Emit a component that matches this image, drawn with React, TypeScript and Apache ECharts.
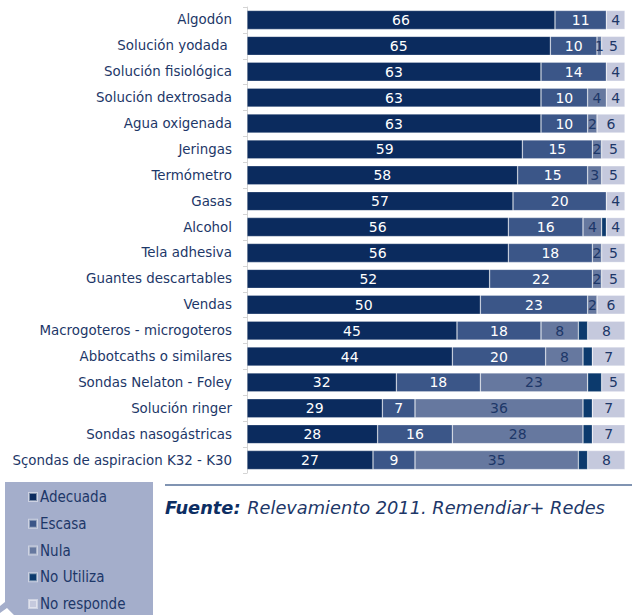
import React, { useEffect, useRef } from "react";
import * as echarts from "echarts";

const categories = [
  "Algodón",
  "Solución yodada ",
  "Solución fisiológica",
  "Solución dextrosada",
  "Agua oxigenada",
  "Jeringas",
  "Termómetro",
  "Gasas",
  "Alcohol",
  "Tela adhesiva",
  "Guantes descartables",
  "Vendas",
  "Macrogoteros - microgoteros",
  "Abbotcaths o similares",
  "Sondas Nelaton - Foley",
  "Solución ringer",
  "Sondas nasogástricas",
  "Sçondas de aspiracion K32 - K30",
];

const adecuada = [66, 65, 63, 63, 63, 59, 58, 57, 56, 56, 52, 50, 45, 44, 32, 29, 28, 27];
const escasa = [11, 10, 14, 10, 10, 15, 15, 20, 16, 18, 22, 23, 18, 20, 18, 7, 16, 9];
const nula = [0, 1, 0, 4, 2, 2, 3, 0, 4, 2, 2, 2, 8, 8, 23, 36, 28, 35];
const noUtiliza = [0, 0, 0, 0, 0, 0, 0, 0, 1, 0, 0, 0, 2, 2, 3, 2, 2, 2];
const noResponde = [4, 5, 4, 4, 6, 5, 5, 4, 4, 5, 5, 6, 8, 7, 5, 7, 7, 8];

const seriesNames = ["Adecuada", "Escasa", "Nula", "No Utiliza", "No responde"];
const colors = ["#0b2b5e", "#3b5688", "#66789f", "#0c3a6d", "#c5c9dd"];
const NAVY = "#1d3768";
const FONT = "DejaVu Sans";
const NARROW = "'Liberation Sans Narrow', 'DejaVu Sans Condensed', 'Liberation Sans', sans-serif";

export default function App() {
  const ref = useRef<HTMLDivElement>(null);
  useEffect(() => {
    if (!ref.current) return;
    const chart = echarts.init(ref.current, undefined, { renderer: "svg" });
    const datasets = [adecuada, escasa, nula, noUtiliza, noResponde];
    const labelColors = ["#ffffff", "#ffffff", NAVY, NAVY, NAVY];
    const series = datasets.map((d, i) => ({
      name: seriesNames[i],
      type: "bar",
      stack: "total",
      barWidth: 19,
      data: d.map((v) => (v === 0 ? null : v)),
      itemStyle: {
        color: colors[i],
        borderColor: "rgba(255,255,255,0.45)",
        borderWidth: 0.6,
      },
      label: {
        show: i !== 3,
        position: "inside",
        color: labelColors[i],
        fontFamily: FONT,
        fontSize: 14,
        formatter: (p: any) => (p.value ? String(p.value) : ""),
      },
    }));
    chart.setOption({
      animation: false,
      color: colors,
      grid: { left: 247, top: 7, width: 378, height: 466 },
      xAxis: { type: "value", min: 0, max: 81, show: false },
      yAxis: {
        type: "category",
        inverse: true,
        data: categories,
        axisLine: { show: true, lineStyle: { color: "#d4d4d4", width: 1 } },
        axisTick: { show: true, length: 4, lineStyle: { color: "#d4d4d4" } },
        axisLabel: {
          color: NAVY,
          fontFamily: FONT,
          fontSize: 13.4,
          margin: 15,
        },
      },
      legend: {
        orient: "vertical",
        left: 28,
        top: 489,
        height: 200,
        padding: 0,
        itemWidth: 8,
        itemHeight: 8,
        itemGap: 10.75,
        icon: "rect",
        selectedMode: false,
        data: seriesNames,
        textStyle: {
          color: NAVY,
          fontFamily: NARROW,
          fontSize: 15,
          lineHeight: 16,
          padding: [0, 0, 0, -2],
        },
      },
      graphic: [
        {
          type: "polygon",
          z: -10,
          shape: {
            points: [
              [5, 482],
              [153, 482],
              [153, 615],
              [14, 615],
              [7, 608],
              [0, 613],
              [0, 606],
              [5, 602],
            ],
          },
          style: { fill: "#a4aecb" },
        },
        {
          type: "line",
          shape: { x1: 165, y1: 485, x2: 632, y2: 485 },
          style: { stroke: "#8094b2", lineWidth: 2 },
        },
        {
          type: "text",
          x: 165,
          y: 498,
          style: {
            text: "{b|Fuente:}  {n|Relevamiento 2011. Remendiar+ Redes}",
            rich: {
              b: {
                fontFamily: FONT,
                fontSize: 17.8,
                fontWeight: "bold",
                fontStyle: "italic",
                fill: "#0d2e63",
              },
              n: {
                fontFamily: FONT,
                fontSize: 17.8,
                fontStyle: "italic",
                fill: NAVY,
              },
            },
          },
        },
      ],
      series,
    });
    return () => chart.dispose();
  }, []);
  return <div ref={ref} style={{ width: 632, height: 615, position: "absolute", left: 0, top: 0 }} />;
}
